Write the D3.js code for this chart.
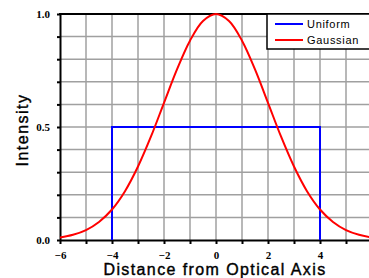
<!DOCTYPE html>
<html>
<head>
<meta charset="utf-8">
<script src="https://cdn.jsdelivr.net/npm/d3@7"></script>
<style>
  body { margin: 0; background: #fff; }
  svg { display: block; }
</style>
</head>
<body>
<div id="chart"></div>
<script>
// values
const gaussX = [-6, -5.5, -5, -4.5, -4, -3.5, -3, -2.5, -2, -1.5, -1, -0.5, 0,
                0.5, 1, 1.5, 2, 2.5, 3, 3.5, 4, 4.5, 5, 5.5, 6];
const gaussY = [0.011, 0.023, 0.044, 0.08, 0.135, 0.216, 0.325, 0.458, 0.607, 0.755, 0.882, 0.969, 1.0,
                0.969, 0.882, 0.755, 0.607, 0.458, 0.325, 0.216, 0.135, 0.08, 0.044, 0.023, 0.011];
const uniformX = [-4, -4, 4, 4];
const uniformY = [0, 0.5, 0.5, 0];
const seriesNames = ["Uniform", "Gaussian"];
const seriesColors = ["#0000ff", "#ff0000"];
const xTickLabels = [-6, -4, -2, 0, 2, 4, 6];
const yTickLabels = [0, 0.5, 1.0];

const W = 369, H = 278;
const margin = { top: 14, left: 60, bottom: 38 };
const plotRight = 372; // plot runs past the picture edge

const svg = d3.select("#chart").append("svg")
  .attr("width", W).attr("height", H);

const x = d3.scaleLinear().domain([-6, 6]).range([margin.left, plotRight]);
const y = d3.scaleLinear().domain([0, 1]).range([H - margin.bottom, margin.top]);

// grid
const grid = svg.append("g").attr("stroke", "#a0a0a0").attr("stroke-width", 1.5);
grid.selectAll(".vg").data(d3.range(-5, 6)).enter().append("line")
  .attr("x1", d => x(d)).attr("x2", d => x(d))
  .attr("y1", y(0)).attr("y2", y(1));
grid.selectAll(".hg").data(d3.range(1, 10).map(d => d / 10)).enter().append("line")
  .attr("x1", x(-6)).attr("x2", x(6))
  .attr("y1", d => y(d)).attr("y2", d => y(d));

// axes
const xAxis = svg.append("g")
  .attr("transform", "translate(0," + y(0) + ")")
  .call(d3.axisBottom(x).tickValues(d3.range(-6, 7)).tickSize(4).tickSizeOuter(0)
    .tickFormat(d => xTickLabels.includes(d) ? d3.format("d")(d) : ""));
const yAxis = svg.append("g")
  .attr("transform", "translate(" + x(-6) + ",0)")
  .call(d3.axisLeft(y).tickValues(d3.range(0, 11).map(d => d / 10)).tickSize(3).tickSizeOuter(0)
    .tickFormat(d => yTickLabels.some(v => Math.abs(v - d) < 1e-9) ? d3.format(".1f")(d) : ""));

[xAxis, yAxis].forEach(a => {
  a.select(".domain").attr("stroke", "#000").attr("stroke-width", 2);
  a.selectAll(".tick line").attr("stroke", "#000").attr("stroke-width", 2);
  a.selectAll(".tick text")
    .attr("fill", "#000")
    .style("font-family", "'Liberation Serif', 'Times New Roman', serif")
    .style("font-weight", "bold")
    .style("font-size", "11px");
});
xAxis.selectAll(".tick text").attr("dy", "0.71em").attr("y", 11);
yAxis.selectAll(".tick text").attr("x", -10);

// top frame
svg.append("line")
  .attr("x1", x(-6) - 1).attr("x2", x(6))
  .attr("y1", y(1)).attr("y2", y(1))
  .attr("stroke", "#000").attr("stroke-width", 2);

// series
const uniformData = uniformX.map((d, i) => [d, uniformY[i]]);
const gaussData = gaussX.map((d, i) => [d, gaussY[i]]);

svg.append("path")
  .datum(uniformData)
  .attr("fill", "none")
  .attr("stroke", seriesColors[0])
  .attr("stroke-width", 2)
  .attr("d", d3.line().x(d => x(d[0])).y(d => y(d[1])));

svg.append("path")
  .datum(gaussData)
  .attr("fill", "none")
  .attr("stroke", seriesColors[1])
  .attr("stroke-width", 2)
  .attr("d", d3.line().curve(d3.curveCatmullRom).x(d => x(d[0])).y(d => y(d[1])));

// legend
const legend = svg.append("g");
legend.append("rect")
  .attr("x", 267).attr("y", y(1))
  .attr("width", 120).attr("height", 35)
  .attr("fill", "#fff").attr("stroke", "#000").attr("stroke-width", 1.5);
seriesNames.forEach((name, i) => {
  const ly = 24 + i * 16;
  legend.append("line")
    .attr("x1", 275).attr("x2", 303).attr("y1", ly).attr("y2", ly)
    .attr("stroke", seriesColors[i]).attr("stroke-width", 2);
  legend.append("text")
    .attr("x", 307).attr("y", ly + 4)
    .text(name)
    .style("font-family", "'Liberation Sans', Arial, sans-serif")
    .style("font-size", "11px")
    .style("letter-spacing", "0.7px");
});

// axis titles
svg.append("text")
  .attr("x", 215).attr("y", 275)
  .attr("text-anchor", "middle")
  .text("Distance from Optical Axis")
  .style("font-family", "'Liberation Sans', Arial, sans-serif")
  .style("font-size", "16px")
  .style("letter-spacing", "1.4px")
  .attr("stroke", "#000").attr("stroke-width", 0.4);

svg.append("text")
  .attr("transform", "translate(28,130) rotate(-90)")
  .attr("text-anchor", "middle")
  .text("Intensity")
  .style("font-family", "'Liberation Sans', Arial, sans-serif")
  .style("font-size", "16px")
  .style("letter-spacing", "1.5px")
  .attr("stroke", "#000").attr("stroke-width", 0.4);
</script>
</body>
</html>
